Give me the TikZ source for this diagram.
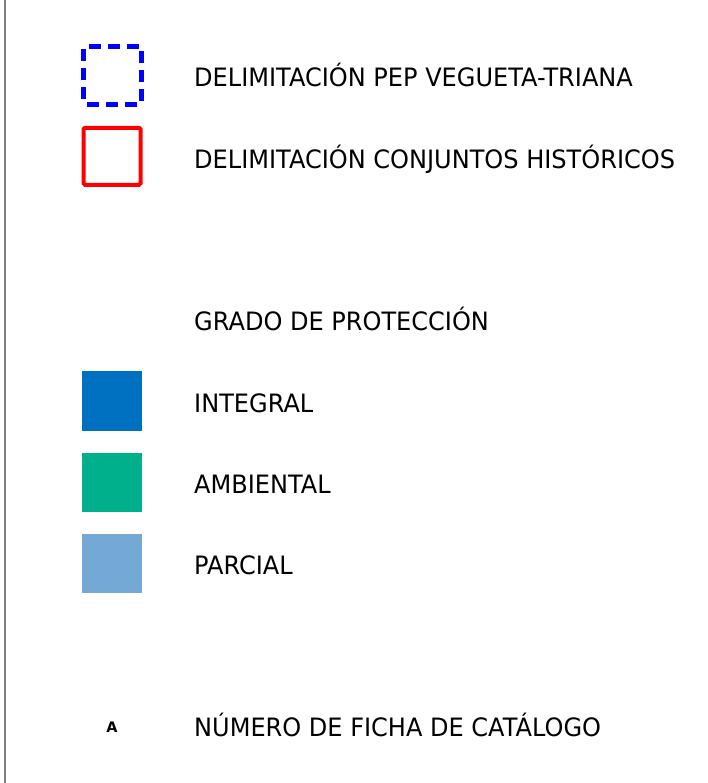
\documentclass[tikz,border=0pt]{standalone}
\usepackage{fontspec}
\newfontfamily\legfont[FakeStretch=0.95]{DejaVu Sans}
\newfontfamily\legbold{DejaVu Sans}
\definecolor{pepblue}{RGB}{0,0,255}
\definecolor{chred}{RGB}{255,0,0}
\definecolor{integral}{RGB}{0,112,192}
\definecolor{ambiental}{RGB}{0,176,140}
\definecolor{parcial}{RGB}{116,169,213}
\definecolor{frameline}{RGB}{128,128,128}
\tikzset{
  legtext/.style={anchor=base west, inner sep=0pt, font=\legfont\fontsize{25.3}{28}\selectfont, text=black},
  swatch/.style={rectangle, inner sep=0pt, minimum size=60pt, draw=none},
  dashside/.style={pepblue, line width=5pt, dash pattern=on 12pt off 7pt, dash phase=14pt},
}
\begin{document}
\begin{tikzpicture}[x=1pt,y=-1pt]
\useasboundingbox (0,0) rectangle (707,783);
\draw[frameline, line width=1.5pt] (5,0) -- (5,783);

% PEP dashed square
\coordinate (p1) at (83.5,46.5);
\coordinate (p2) at (141.5,46.5);
\coordinate (p3) at (141.5,104.5);
\coordinate (p4) at (83.5,104.5);
\draw[dashside] (p1) -- (p2);
\draw[dashside] (p2) -- (p3);
\draw[dashside] (p3) -- (p4);
\draw[dashside] (p4) -- (p1);

% Conjuntos historicos red square
\node[rectangle, inner sep=0pt, minimum size=57pt, draw=chred, line width=4pt, rounded corners=1.5pt] (ch) at (112,156.3) {};

\node[swatch, fill=integral] (int) at (112,401) {};
\node[swatch, fill=ambiental, minimum height=59pt] (amb) at (112,482.5) {};
\node[swatch, fill=parcial, minimum height=59pt] (par) at (112,563.5) {};

\node[legtext] (t1) at (194,87) {DELIMITACIÓN PEP VEGUETA-TRIANA};
\node[legtext] (t2) at (194,169) {DELIMITACIÓN CONJUNTOS HISTÓRICOS};
\node[legtext] (t3) at (194,330) {GRADO DE PROTECCIÓN};
\node[legtext] (t4) at (194,412) {INTEGRAL};
\node[legtext] (t5) at (194,493) {AMBIENTAL};
\node[legtext] (t6) at (194,574) {PARCIAL};
\node[legtext] (t7) at (194,736) {NÚMERO DE FICHA DE CATÁLOGO};
\node[anchor=base, inner sep=0pt, font=\legbold\bfseries\fontsize{14.5}{16}\selectfont] (a) at (112,732) {A};
\end{tikzpicture}
\end{document}
